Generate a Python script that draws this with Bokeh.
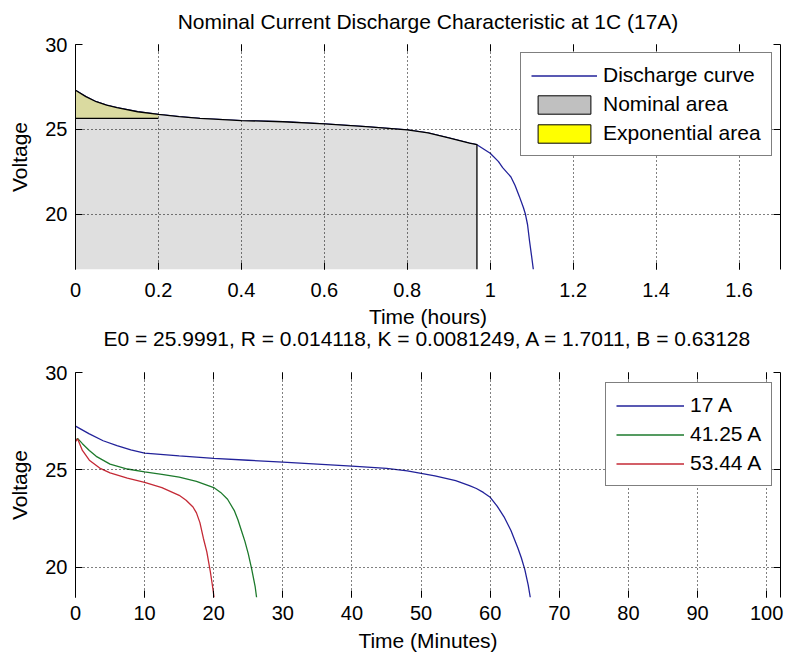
import numpy as np
from bokeh.plotting import figure
from bokeh.models import LinearAxis, FixedTicker, Legend, LegendItem, Range1d, Grid
from bokeh.layouts import column
from bokeh.embed import file_html
from bokeh.resources import INLINE

# ---------------- data ----------------
# Top: nominal current (17 A) discharge curve, time in hours
hours = [0, 0.025, 0.05, 0.075, 0.1, 0.15, 0.2, 0.25, 0.3, 0.4, 0.5, 0.6, 0.7,
         0.8, 0.85, 0.9, 0.95, 0.968, 1.0, 1.02, 1.03, 1.05, 1.06, 1.07, 1.08,
         1.085, 1.09, 1.095, 1.1, 1.104]
volts_hours = [27.31, 26.93, 26.63, 26.43, 26.28, 26.04, 25.89, 25.75, 25.65, 25.52,
               25.45, 25.32, 25.16, 24.97, 24.8, 24.5, 24.19, 24.1, 23.6, 23.1,
               22.75, 22.2, 21.7, 21.07, 20.4, 20.0, 19.4, 18.4, 17.5, 16.75]
nominal_end_h = 0.968
exp_end_h = 0.2
exp_level = 25.65

top_x_ticks = [0, 0.2, 0.4, 0.6, 0.8, 1.0, 1.2, 1.4, 1.6]
top_x_labels = ["0", "0.2", "0.4", "0.6", "0.8", "1", "1.2", "1.4", "1.6"]
top_y_ticks = [20, 25, 30]
top_y_labels = ["20", "25", "30"]

# Bottom: discharge at three currents, time in minutes
min_17 = [0, 2, 4, 6, 8, 10, 15, 20, 25, 30, 35, 40, 45, 48, 50, 52, 55, 57, 58,
          59, 60, 61, 62, 63, 64, 64.5, 65, 65.5, 65.8]
v_17 = [27.25, 26.85, 26.5, 26.25, 26.03, 25.87, 25.72, 25.6, 25.5, 25.4, 25.3,
        25.2, 25.08, 24.95, 24.83, 24.7, 24.45, 24.2, 24.05, 23.85, 23.6, 23.15,
        22.6, 21.9, 21.0, 20.5, 19.9, 19.1, 18.46]
min_41 = [0, 0.3, 1, 2, 3, 5, 7.5, 10, 12.5, 15, 17.5, 20, 21, 22, 23, 23.5, 24,
          24.5, 25, 25.5, 26, 26.2]
v_41 = [26.5, 26.62, 26.35, 26.0, 25.7, 25.3, 25.05, 24.9, 24.78, 24.63, 24.42,
        24.1, 23.85, 23.5, 22.9, 22.45, 21.9, 21.35, 20.7, 19.9, 19.0, 18.46]
min_53 = [0, 0.3, 1, 2, 3.5, 5, 7.5, 10, 12.5, 15, 16, 17, 17.5, 18, 18.5, 19,
          19.5, 19.8, 20.05]
v_53 = [26.45, 26.6, 26.0, 25.5, 25.1, 24.85, 24.58, 24.36, 24.1, 23.7, 23.45,
        23.1, 22.8, 22.3, 21.5, 20.8, 19.8, 19.1, 18.46]
series_labels = ["17 A", "41.25 A", "53.44 A"]

bot_x_ticks = [0, 10, 20, 30, 40, 50, 60, 70, 80, 90, 100]
bot_x_labels = ["0", "10", "20", "30", "40", "50", "60", "70", "80", "90", "100"]
bot_y_ticks = [20, 25, 30]
bot_y_labels = ["20", "25", "30"]

top_title = "Nominal Current Discharge Characteristic at 1C (17A)"
bot_title = "E0 = 25.9991, R = 0.014118, K = 0.0081249, A = 1.7011, B = 0.63128"

# ---------------- style ----------------
FONT = "Liberation Sans"
BLUE = "#22229a"
GREEN = "#1d7a2c"
RED = "#c42a36"
TOP_Y0, TOP_Y1 = 16.75, 30
BOT_Y0, BOT_Y1 = 18.46, 30
TEXT = dict(axis_label_text_font=FONT, axis_label_text_font_size="21px",
            axis_label_text_font_style="normal", axis_label_text_color="black")
TICKS = dict(major_tick_in=7, major_tick_out=0, minor_tick_line_color=None,
             major_tick_line_color="black")


def style_axes(p, xt, xl, yt, yl, xlabel, lab_standoff, xlab_standoff,
               title=None, title_standoff=0):
    xb = LinearAxis(ticker=FixedTicker(ticks=xt),
                    major_label_overrides=dict(zip(xt, xl)),
                    axis_label=xlabel, axis_line_color=None,
                    major_label_text_font=FONT, major_label_text_font_size="20px",
                    major_label_text_color="black", major_label_standoff=lab_standoff,
                    axis_label_standoff=xlab_standoff, **TEXT, **TICKS)
    p.add_layout(xb, "below")
    ylft = LinearAxis(ticker=FixedTicker(ticks=yt),
                      major_label_overrides=dict(zip(yt, yl)),
                      axis_label="Voltage", axis_line_color="black",
                      major_label_text_font=FONT, major_label_text_font_size="20px",
                      major_label_text_color="black", major_label_standoff=8,
                      axis_label_standoff=11, **TEXT, **TICKS)
    p.add_layout(ylft, "left")
    # top axis: inward ticks only; its axis label (if any) serves as the title
    xtop = LinearAxis(ticker=FixedTicker(ticks=xt), axis_line_color=None,
                      major_label_overrides={k: "" for k in xt},
                      major_label_standoff=0, axis_label=title,
                      axis_label_standoff=title_standoff, **TEXT, **TICKS)
    p.add_layout(xtop, "above")
    yrt = LinearAxis(ticker=FixedTicker(ticks=yt), axis_line_color="black",
                     major_label_overrides={k: "" for k in yt},
                     major_label_standoff=0, **TICKS)
    p.add_layout(yrt, "right")
    for dim, ticks in ((0, xt), (1, yt)):
        g = Grid(dimension=dim, ticker=FixedTicker(ticks=ticks), grid_line_color="black",
                 grid_line_dash="1 3", grid_line_width=1, level="annotation")
        p.add_layout(g)


def style_fig(p):
    p.outline_line_color = None
    p.background_fill_color = "white"
    p.border_fill_color = "white"


def make_legend(items, loc, glyph_w, standoff):
    return Legend(items=items, location=loc, glyph_width=glyph_w, glyph_height=23,
                  label_height=23, spacing=5, padding=10, margin=0,
                  label_standoff=standoff, label_text_font=FONT,
                  label_text_font_size="21px", label_text_color="black",
                  border_line_color="black", border_line_width=1,
                  background_fill_color="white", background_fill_alpha=1,
                  inactive_fill_alpha=0)


# ---------------- top figure ----------------
p1 = figure(width=787, height=352, x_range=Range1d(0, 1.7),
            y_range=Range1d(TOP_Y0, TOP_Y1), output_backend="svg",
            toolbar_location=None, x_axis_type=None, y_axis_type=None,
            min_border_left=75, min_border_right=7, min_border_top=44,
            min_border_bottom=81)
style_fig(p1)

t = np.array(hours)
v = np.array(volts_hours)
curve = p1.line(hours, volts_hours, line_color=BLUE, line_width=1.3)

m_nom = (t >= exp_end_h) & (t <= nominal_end_h)
gray_x = [0, 0, exp_end_h] + list(t[m_nom]) + [nominal_end_h]
gray_y = [TOP_Y0, exp_level, exp_level] + list(v[m_nom]) + [TOP_Y0]
p1.patch(gray_x, gray_y, fill_color="#dfdfdf", line_color=None)

m_exp = t <= exp_end_h
yel_x = list(t[m_exp]) + [exp_end_h, 0]
yel_y = list(v[m_exp]) + [exp_level, exp_level]
p1.patch(yel_x, yel_y, fill_color="#dadaa0", line_color=None)

m_out = t <= nominal_end_h
p1.multi_line([list(t[m_out]) + [nominal_end_h], [0, exp_end_h]],
              [list(v[m_out]) + [TOP_Y0], [exp_level, exp_level]],
              line_color="black", line_width=1.3)

# legend-only swatches (hidden renderers carrying the legend colours)
leg_nom = p1.patch(gray_x, gray_y, fill_color="#c0c0c0", line_color="black",
                   line_width=1, visible=False)
leg_exp = p1.patch(yel_x, yel_y, fill_color="#ffff00", line_color="black",
                   line_width=1, visible=False)

style_axes(p1, top_x_ticks, top_x_labels, top_y_ticks, top_y_labels, "Time (hours)",
           13, 5, top_title, 12)

# the lower panel's parameter line sits just beneath "Time (hours)"
param_axis = LinearAxis(ticker=FixedTicker(ticks=[]), axis_line_color=None,
                        major_tick_line_color=None, minor_tick_line_color=None,
                        major_tick_in=0, major_tick_out=0, major_label_standoff=0,
                        axis_label=bot_title, axis_label_standoff=-4, **TEXT)
p1.add_layout(param_axis, "below")

lg1 = make_legend([LegendItem(label="Discharge curve", renderers=[curve]),
                   LegendItem(label="Nominal area", renderers=[leg_nom]),
                   LegendItem(label="Exponential area", renderers=[leg_exp])],
                  (445, 113), 66, 6)
p1.add_layout(lg1)

# ---------------- bottom figure ----------------
p2 = figure(width=787, height=308, x_range=Range1d(0, 102),
            y_range=Range1d(BOT_Y0, BOT_Y1), output_backend="svg",
            toolbar_location=None, x_axis_type=None, y_axis_type=None,
            min_border_left=75, min_border_right=5, min_border_top=20,
            min_border_bottom=63)
style_fig(p2)

r17 = p2.line(min_17, v_17, line_color=BLUE, line_width=1.3)
r41 = p2.line(min_41, v_41, line_color=GREEN, line_width=1.3)
r53 = p2.line(min_53, v_53, line_color=RED, line_width=1.3)

style_axes(p2, bot_x_ticks, bot_x_labels, bot_y_ticks, bot_y_labels, "Time (Minutes)",
           8, 6)

lg2 = make_legend([LegendItem(label=series_labels[0], renderers=[r17]),
                   LegendItem(label=series_labels[1], renderers=[r41]),
                   LegendItem(label=series_labels[2], renderers=[r53])],
                  (530, 111), 68, 6)
p2.add_layout(lg2)

layout = column(p1, p2)
open("out.html", "w").write(file_html(layout, INLINE))
